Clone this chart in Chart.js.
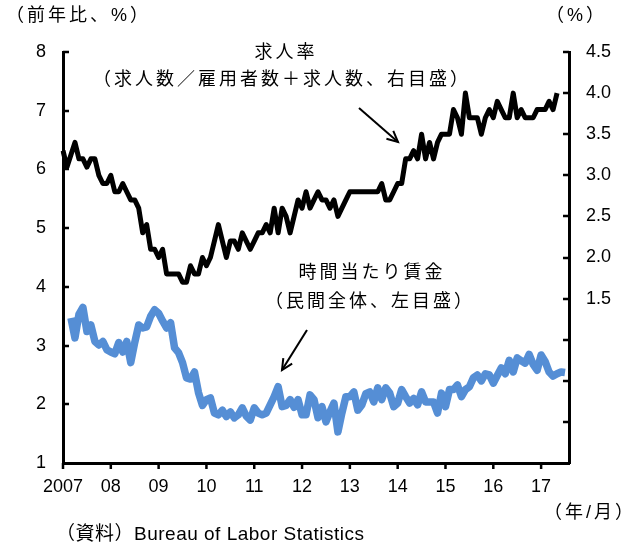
<!DOCTYPE html>
<html><head><meta charset="utf-8">
<script src="https://cdn.jsdelivr.net/npm/chart.js@4.4.0/dist/chart.umd.min.js"></script>
<style>html,body{margin:0;padding:0;background:#fff;}#wrap{position:relative;width:633px;height:547px;}</style>
</head><body><div id="wrap"><canvas id="c" width="633" height="547"></canvas></div>
<script>
// Monthly categories 2007/1 .. 2017/8
const months = [];
for (let y = 2007; y <= 2017; y++) for (let m = 1; m <= 12; m++) { if (y === 2017 && m > 8) break; months.push(y + '/' + m); }
const yearTickLabels = ['2007','08','09','10','11','12','13','14','15','16','17'];

// 求人率 (right axis, %)
const openingsRate = [
 3.3,3.1,3.25,3.4,3.2,3.2,3.1,3.2,3.2,3.0,
 2.9,2.9,3.0,2.8,2.8,2.9,2.8,2.7,2.7,2.6,
 2.3,2.4,2.1,2.1,2.0,2.1,1.8,1.8,1.8,1.8,
 1.7,1.7,1.9,1.8,1.8,2.0,1.9,2.0,2.2,2.4,
 2.2,2.0,2.2,2.2,2.1,2.3,2.2,2.1,2.2,2.3,
 2.3,2.4,2.3,2.6,2.3,2.6,2.5,2.3,2.5,2.7,
 2.6,2.8,2.6,2.7,2.8,2.7,2.7,2.6,2.7,2.5,
 2.6,2.7,2.8,2.8,2.8,2.8,2.8,2.8,2.8,2.8,
 2.9,2.7,2.7,2.8,2.9,2.9,3.2,3.2,3.3,3.2,
 3.5,3.2,3.4,3.2,3.4,3.5,3.5,3.5,3.8,3.7,
 3.5,4.0,3.7,3.7,3.7,3.5,3.7,3.8,3.7,3.9,
 3.8,3.7,3.7,4.0,3.7,3.8,3.7,3.7,3.7,3.8,
 3.8,3.8,3.9,3.8,4.0
];

// 時間当たり賃金 前年比 (left axis, %)
const wageGrowth = [
 null,null,3.47,3.13,3.53,3.65,3.24,3.35,3.07,3.01,
 3.07,2.93,2.89,2.86,3.05,2.89,3.07,2.71,3.05,3.35,
 3.30,3.32,3.50,3.61,3.55,3.42,3.30,3.39,2.96,2.88,
 2.71,2.45,2.43,2.55,2.20,1.98,2.08,2.11,1.85,1.82,
 1.90,1.79,1.87,1.77,1.82,1.94,1.80,1.73,1.94,1.85,
 1.82,1.85,1.99,2.13,2.30,1.96,1.98,2.08,1.95,2.08,
 1.82,1.82,2.16,2.08,1.77,1.96,1.70,1.87,2.02,1.53,
 1.85,2.13,2.13,2.21,1.90,1.99,2.18,2.21,2.04,2.28,
 2.08,2.28,2.19,1.96,2.02,2.25,2.13,2.02,2.10,1.99,
 2.21,2.04,2.04,2.04,1.85,2.19,1.96,2.25,2.25,2.33,
 2.13,2.25,2.30,2.45,2.50,2.40,2.52,2.50,2.36,2.49,
 2.62,2.52,2.75,2.55,2.79,2.74,2.70,2.85,2.68,2.58,
 2.84,2.73,2.55,2.48,2.52,2.55,2.54
];

const FONT_NUM = '"Liberation Sans", Arial, sans-serif';
const FONT_JP = '"Liberation Sans", "Noto Sans CJK JP", sans-serif';

const tickMarks = {
  id: 'tickMarks',
  afterDraw(chart) {
    const ctx = chart.ctx, a = chart.chartArea;
    const yL = chart.scales.yL, yR = chart.scales.yR, x = chart.scales.x;
    ctx.save();
    ctx.strokeStyle = '#000'; ctx.lineWidth = 2.5; ctx.lineCap = 'butt';
    ctx.beginPath();
    yL.ticks.forEach(t => { if (t.value > yL.min) { const p = Math.round(yL.getPixelForValue(t.value)); ctx.moveTo(a.left, p); ctx.lineTo(a.left + 6, p); } });
    yR.ticks.forEach(t => { if (t.value > yR.min) { const p = Math.round(yR.getPixelForValue(t.value)); ctx.moveTo(a.right, p); ctx.lineTo(a.right - 6, p); } });
    months.forEach((m, i) => { if (i % 12 === 0) { const p = x.getPixelForValue(i); ctx.moveTo(p, a.bottom); ctx.lineTo(p, a.bottom + 6); } });
    ctx.stroke();
    ctx.restore();
  }
};

function arrow(ctx, x1, y1, x2, y2) {
  ctx.beginPath(); ctx.moveTo(x1, y1); ctx.lineTo(x2, y2); ctx.stroke();
  const ang = Math.atan2(y2 - y1, x2 - x1), L = 12, w = 0.45;
  ctx.beginPath();
  ctx.moveTo(x2 - L * Math.cos(ang - w), y2 - L * Math.sin(ang - w));
  ctx.lineTo(x2, y2);
  ctx.lineTo(x2 - L * Math.cos(ang + w), y2 - L * Math.sin(ang + w));
  ctx.stroke();
}

const notes = {
  id: 'notes',
  afterDraw(chart) {
    const ctx = chart.ctx;
    ctx.save();
    ctx.fillStyle = '#000';
    ctx.textBaseline = 'middle';
    ctx.font = '18px ' + FONT_JP;
    ctx.letterSpacing = '3px';
    ctx.textAlign = 'left';
    ctx.fillText('（前年比、%）', 6, 16);
    ctx.fillText('（%）', 546, 16);
    ctx.textAlign = 'center';
    ctx.fillText('求人率', 286, 53);
    ctx.fillText('（求人数／雇用者数＋求人数、右目盛）', 282, 80);
    ctx.fillText('時間当たり賃金', 372, 273);
    ctx.fillText('（民間全体、左目盛）', 370, 302);
    ctx.textAlign = 'left';
    ctx.fillText('（年/月）', 544, 513);
    ctx.letterSpacing = '0.5px';
    ctx.font = '19px ' + FONT_JP;
    ctx.fillText('（資料）Bureau of Labor Statistics', 56, 535);
    ctx.strokeStyle = '#000'; ctx.lineWidth = 2;
    arrow(ctx, 359, 108, 398, 142);
    arrow(ctx, 307, 330, 282, 370);
    ctx.restore();
  }
};

const tickFont = { family: FONT_NUM, size: 18 };

new Chart(document.getElementById('c'), {
  type: 'line',
  data: {
    labels: months,
    datasets: [
      { label: '求人率', data: openingsRate, yAxisID: 'yR', borderColor: '#000000', borderWidth: 5,
        pointRadius: 0, tension: 0, borderJoinStyle: 'round', borderCapStyle: 'butt', fill: false },
      { label: '時間当たり賃金', data: wageGrowth, yAxisID: 'yL', borderColor: '#558ED5', borderWidth: 7.5,
        pointRadius: 0, tension: 0, borderJoinStyle: 'round', borderCapStyle: 'butt', fill: false, spanGaps: false }
    ]
  },
  options: {
    responsive: false, animation: false, devicePixelRatio: 1, events: [],
    layout: { padding: { top: 52, left: 0, right: 0, bottom: 0 } },
    plugins: { legend: { display: false }, tooltip: { enabled: false } },
    scales: {
      x: {
        type: 'category', offset: false,
        grid: { display: true, drawOnChartArea: false, drawTicks: false, color: 'rgba(0,0,0,0)' },
        border: { display: true, color: '#000', width: 3 },
        ticks: { autoSkip: false, maxRotation: 0, minRotation: 0, padding: 13, color: '#000', font: tickFont,
          callback: (v, i) => (i % 12 === 0 ? yearTickLabels[i / 12] : '') },
        afterFit: s => { s.height = 84; }
      },
      yL: {
        position: 'left', min: 1, max: 8,
        grid: { display: true, drawOnChartArea: false, drawTicks: false, color: 'rgba(0,0,0,0)' },
        border: { display: true, color: '#000', width: 3 },
        ticks: { stepSize: 1, padding: 17, color: '#000', font: tickFont },
        afterFit: s => { s.width = 63; }
      },
      yR: {
        position: 'right', min: -0.5, max: 4.5,
        grid: { display: true, drawOnChartArea: false, drawTicks: false, color: 'rgba(0,0,0,0)' },
        border: { display: true, color: '#000', width: 3 },
        ticks: { stepSize: 0.5, padding: 17, color: '#000', font: tickFont,
          callback: v => (v >= 1.5 - 1e-9 ? Number(v).toFixed(1) : '') },
        afterFit: s => { s.width = 64; }
      }
    }
  },
  plugins: [tickMarks, notes]
});
</script>
</body></html>
